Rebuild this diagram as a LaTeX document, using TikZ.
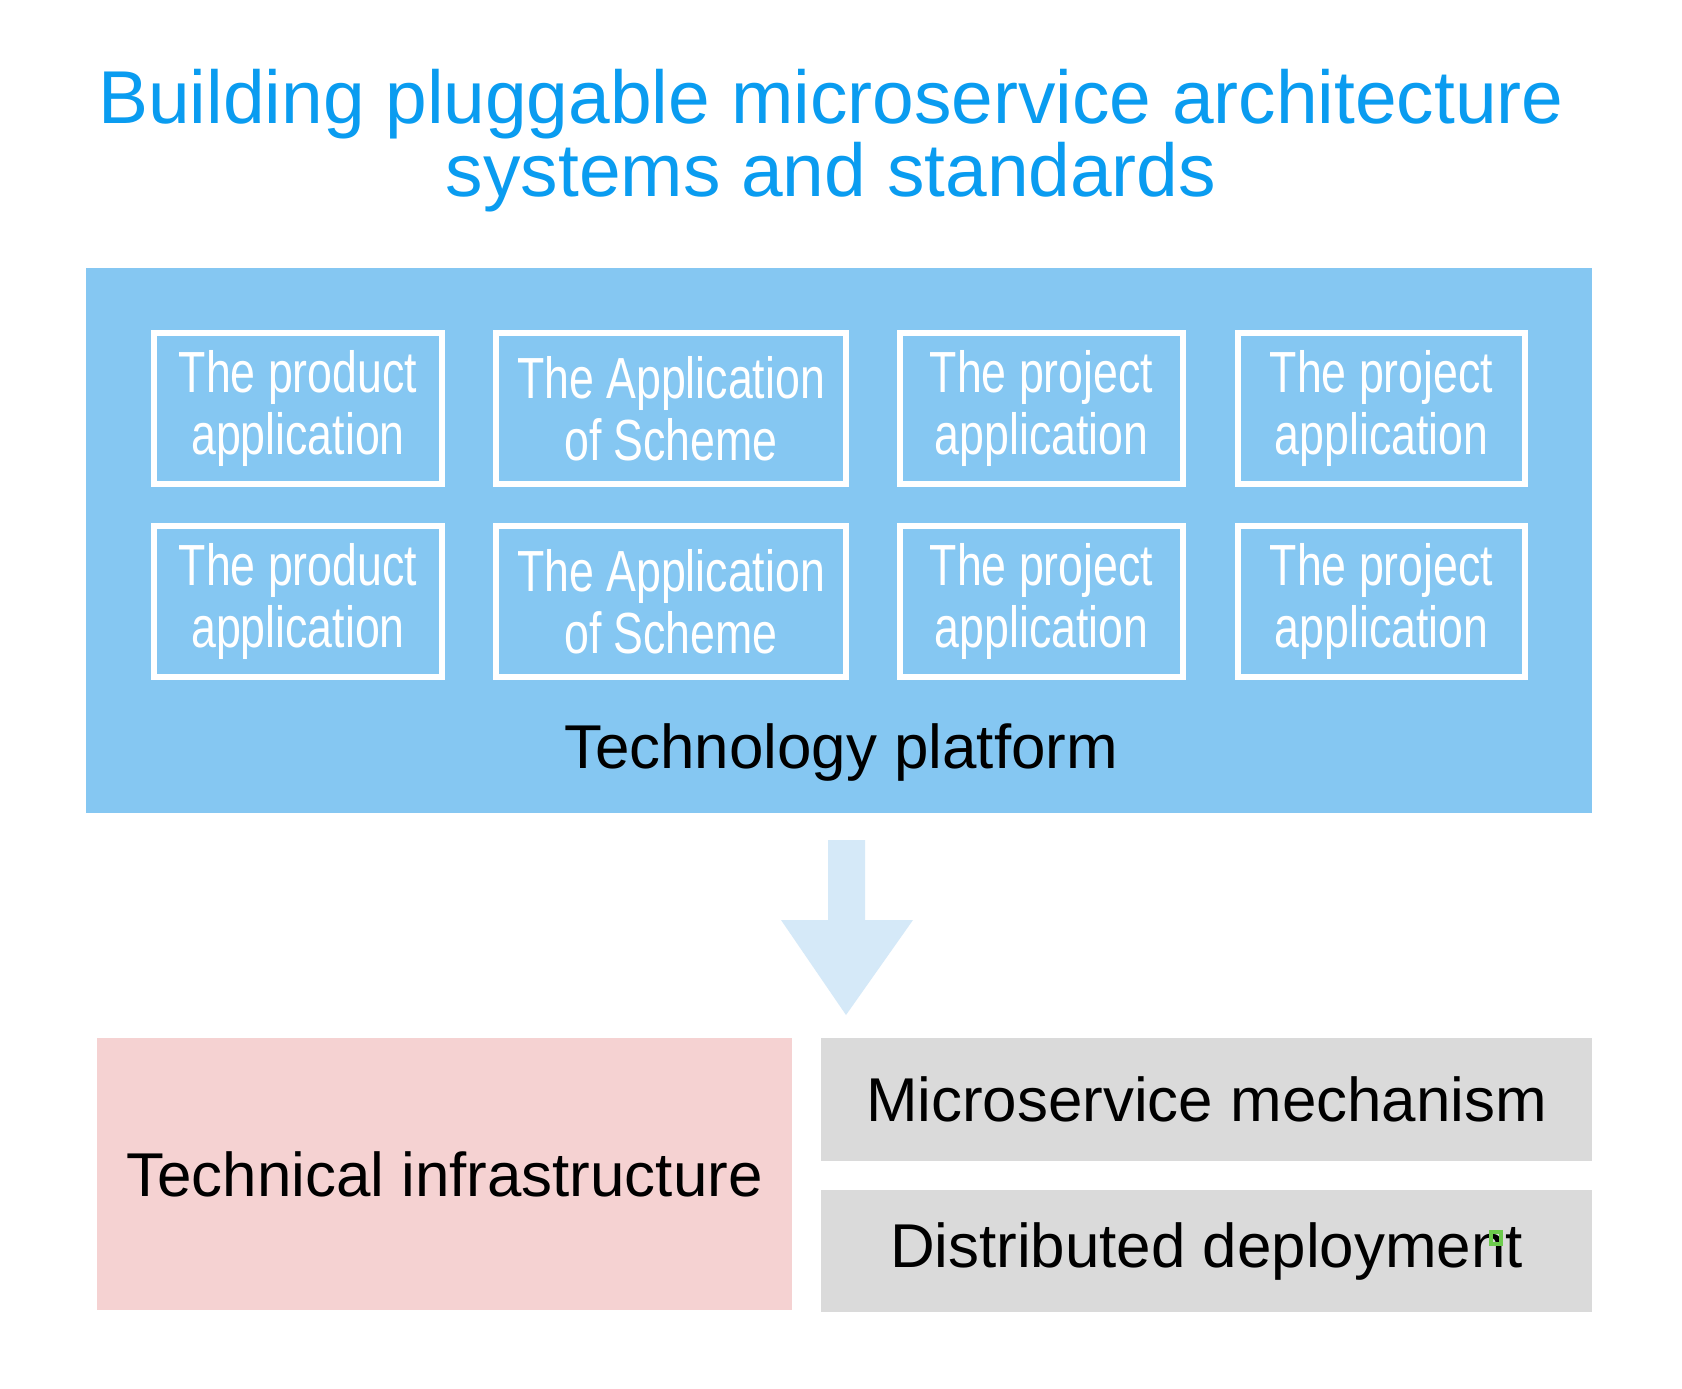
\documentclass[tikz,border=0pt]{standalone}
\usepackage{fontspec}
\setmainfont{Liberation Sans}
\newfontfamily\narrowfont[FakeStretch=0.77]{Liberation Sans}
\usepackage{xcolor}
\definecolor{ttlblue}{HTML}{0A9CF0}
\definecolor{platblue}{HTML}{85C7F2}
\definecolor{arrblue}{HTML}{D5E9F8}
\definecolor{infrapink}{HTML}{F5D2D2}
\definecolor{mechgray}{HTML}{DADADA}
\definecolor{markgreen}{HTML}{6CCB4C}
\usetikzlibrary{positioning}

\begin{document}
\begin{tikzpicture}[
  x=0.01cm,y=-0.01cm,
  appbox/.style={rectangle,draw=white,line width=0.06cm,fill=platblue,align=center,
    minimum height=1.51cm,inner sep=0pt,font=\narrowfont\fontsize{16.5}{17.5}\selectfont,text=white},
  layer/.style={rectangle,inner sep=0pt,align=center,font=\fontsize{17.6}{22}\selectfont},
  blockarr/.style={fill=arrblue,draw=none}
]
\useasboundingbox[fill=white] (0,0) rectangle (1682,1388);

% title
\node[align=center,text=ttlblue,font=\fontsize{21.3}{20.8}\selectfont] (title) at (831,141)
  {Building pluggable microservice architecture\\systems and standards};

% technology platform
\node[layer,fill=platblue,minimum width=15.06cm,minimum height=5.45cm] (plat) at (839,540.5) {};
\node[font=\fontsize{17.6}{20}\selectfont] (platlbl) at (841,752) {Technology platform};

\node[appbox,minimum width=2.88cm] (a1) at (298,408.5) {The product\\application};
\node[appbox,minimum width=3.50cm] (a2) at (671,408.5) {The Application\\of Scheme};
\node[appbox,minimum width=2.83cm] (a3) at (1041.5,408.5) {The project\\application};
\node[appbox,minimum width=2.87cm] (a4) at (1381.5,408.5) {The project\\application};
\node[appbox,minimum width=2.88cm,below=0.36cm of a1] (b1) {The product\\application};
\node[appbox,minimum width=3.50cm,below=0.36cm of a2] (b2) {The Application\\of Scheme};
\node[appbox,minimum width=2.83cm,below=0.36cm of a3] (b3) {The project\\application};
\node[appbox,minimum width=2.87cm,below=0.36cm of a4] (b4) {The project\\application};

% block arrow down
\fill[blockarr] (828,840) -- (865,840) -- (865,920) -- (913,920) -- (846,1015)
  -- (781,920) -- (828,920) -- cycle;

% infrastructure
\node[layer,fill=infrapink,minimum width=6.95cm,minimum height=2.72cm] (infra) at (444.5,1174)
  {Technical infrastructure};
\node[layer,fill=mechgray,minimum width=7.71cm,minimum height=1.23cm] (micro) at (1206.5,1099.5)
  {Microservice mechanism};
\node[layer,fill=mechgray,minimum width=7.71cm,minimum height=1.21cm,below=0.28cm of micro] (dist)
  {Distributed deployment};

\draw[markgreen,line width=0.04cm] (1491,1232) rectangle (1501,1244);
\end{tikzpicture}
\end{document}
